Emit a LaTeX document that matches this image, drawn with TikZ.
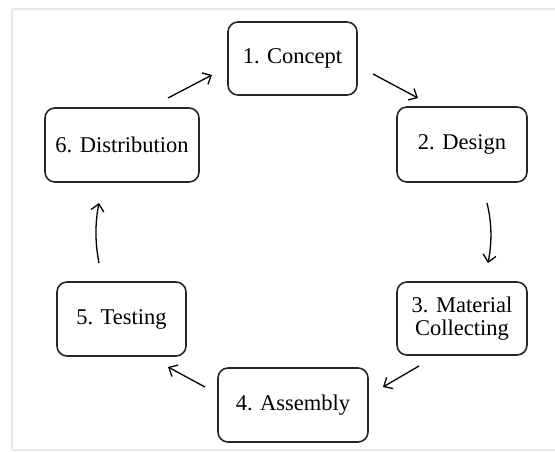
\documentclass[tikz,border=0pt]{standalone}
\usepackage{fontspec}
\setmainfont{Liberation Serif}
\usetikzlibrary{arrows.meta}
\begin{document}
\begin{tikzpicture}[x=1pt,y=-1pt,
  stagebox/.style={draw=black!85, line width=1.6pt, rounded corners=10pt,
    inner sep=0pt, align=center, text=black,
    font=\fontsize{22.5}{23.5}\selectfont},
  flow/.style={line width=1.3pt, black, -{Straight Barb[length=7pt,width=13pt,line width=1.3pt]}}]
\useasboundingbox (0,0) rectangle (555,452);
\fill[white] (0,0) rectangle (555,452);
\draw[gray!18, line width=1.5pt] (12,9) -- (12,450) -- (560,450);
\draw[gray!18, line width=1.5pt] (12,9) -- (560,9);
\node[stagebox, minimum width=129pt, minimum height=73pt] (n1) at (292.5,58.5) {1. Concept};
\node[stagebox, minimum width=130pt, minimum height=75pt] (n2) at (462,144.5) {2. Design};
\node[stagebox, minimum width=130pt, minimum height=73pt] (n3) at (462,318.5) {3. Material\\Collecting};
\node[stagebox, minimum width=150pt, minimum height=74pt] (n4) at (293,405) {4. Assembly};
\node[stagebox, minimum width=129pt, minimum height=74pt] (n5) at (121.5,319) {5. Testing};
\node[stagebox, minimum width=154pt, minimum height=74pt] (n6) at (122,145) {6. Distribution};
% connector end points
\coordinate (a61) at (168,98);  \coordinate (b61) at (212,75);
\coordinate (a12) at (373,74);  \coordinate (b12) at (418,98);
\coordinate (a23) at (487,203); \coordinate (b23) at (488,263);
\coordinate (a34) at (419,366); \coordinate (b34) at (383,387);
\coordinate (a45) at (205,387); \coordinate (b45) at (168,367);
\coordinate (a56) at (99,263);  \coordinate (b56) at (99,203);
\draw[flow] (a61) -- (b61);
\draw[flow] (a12) -- (b12);
\draw[flow] (a23) .. controls (492,223) and (492,243) .. (b23);
\draw[flow] (a34) -- (b34);
\draw[flow] (a45) -- (b45);
\draw[flow] (a56) .. controls (95,243) and (95,223) .. (b56);
\end{tikzpicture}
\end{document}
